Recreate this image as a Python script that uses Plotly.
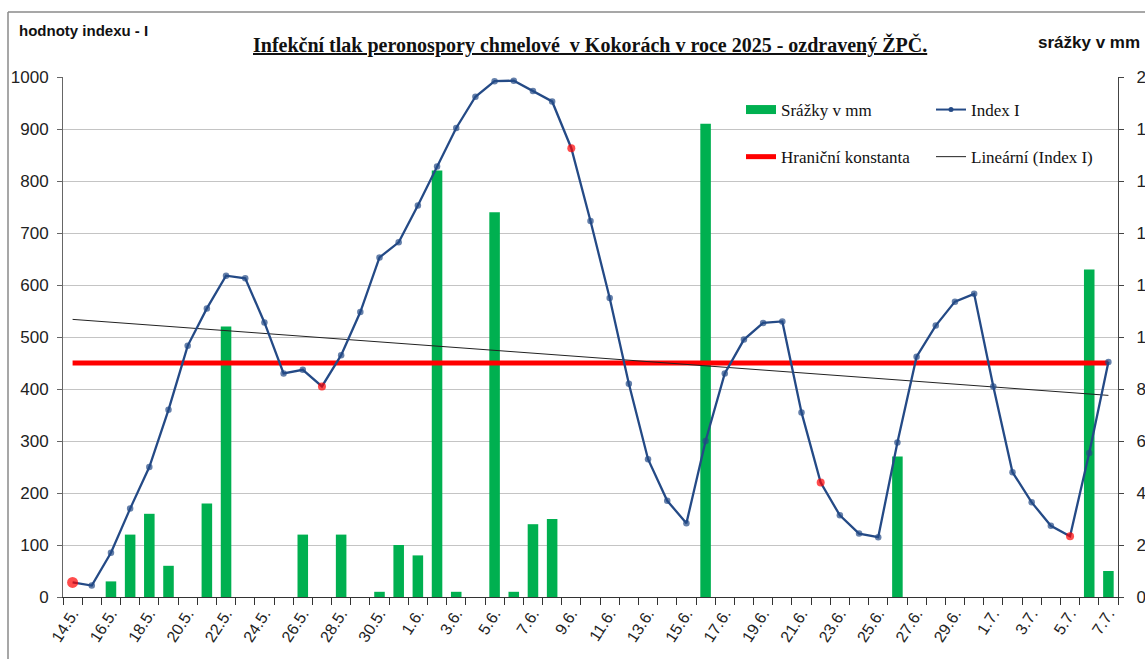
import numpy as np
import plotly.graph_objects as go

# ---------------- data ----------------
DATES = ["14.5.", "15.5.", "16.5.", "17.5.", "18.5.", "19.5.", "20.5.", "21.5.", "22.5.", "23.5.",
         "24.5.", "25.5.", "26.5.", "27.5.", "28.5.", "29.5.", "30.5.", "31.5.",
         "1.6.", "2.6.", "3.6.", "4.6.", "5.6.", "6.6.", "7.6.", "8.6.", "9.6.", "10.6.",
         "11.6.", "12.6.", "13.6.", "14.6.", "15.6.", "16.6.", "17.6.", "18.6.", "19.6.", "20.6.",
         "21.6.", "22.6.", "23.6.", "24.6.", "25.6.", "26.6.", "27.6.", "28.6.", "29.6.", "30.6.",
         "1.7.", "2.7.", "3.7.", "4.7.", "5.7.", "6.7.", "7.7."]

INDEX_I = [28, 22, 85, 170, 250, 360, 483, 555, 618, 613,
           528, 430, 437, 405, 465, 548, 653, 682,
           753, 828, 902, 962, 992, 993, 973, 953, 863, 723,
           575, 410, 265, 185, 142, 300, 430, 495, 527, 530,
           355, 220, 157, 122, 115, 297, 462, 522, 568, 583,
           405, 240, 182, 137, 117, 277, 452]

SRAZKY_MM = [0, 0, 0.6, 2.4, 3.2, 1.2, 0, 3.6, 10.4, 0,
             0, 0, 2.4, 0, 2.4, 0, 0.2, 2.0,
             1.6, 16.4, 0.2, 0, 14.8, 0.2, 2.8, 3.0, 0, 0,
             0, 0, 0, 0, 0, 18.2, 0, 0, 0, 0,
             0, 0, 0, 0, 0, 5.4, 0, 0, 0, 0,
             0, 0, 0, 0, 0, 12.6, 1.0]

HRANICNI_KONSTANTA = 450
RED_POINTS = ["14.5.", "27.5.", "9.6.", "22.6.", "5.7."]
TICK_LABELS = DATES[::2]

TITLE = "Infekční tlak peronospory chmelové  v Kokorách v roce 2025 - ozdravený ŽPČ."

# ---------------- styles ----------------
BLUE = "#244A86"
GREEN = "#00B050"
RED = "#FF0000"
SERIF = "Liberation Serif"
SANS = "Liberation Sans"

# trend (linear regression of Index I)
idx = np.arange(len(INDEX_I))
k, q = np.polyfit(idx, INDEX_I, 1)
trend = k * idx + q

fig = go.Figure()

# rain bars on the base axis (right side)
fig.add_trace(go.Bar(x=DATES, y=SRAZKY_MM, marker=dict(color=GREEN, line=dict(width=0)),
                     width=0.55, yaxis="y", showlegend=False, hoverinfo="x+y"))

# constant line
fig.add_trace(go.Scatter(x=[DATES[0], DATES[-1]], y=[HRANICNI_KONSTANTA] * 2, mode="lines",
                         line=dict(color=RED, width=5), yaxis="y2", showlegend=False))

# trend line
fig.add_trace(go.Scatter(x=DATES, y=trend, mode="lines", line=dict(color="#222222", width=1),
                         yaxis="y2", showlegend=False))

# index line
mcolors = [RED if d in RED_POINTS else BLUE for d in DATES]
msizes = [8 if d in RED_POINTS else 6.5 for d in DATES]
msizes[0] = 11
fig.add_trace(go.Scatter(x=DATES, y=INDEX_I, mode="lines+markers",
                         line=dict(color=BLUE, width=2.3),
                         marker=dict(color=mcolors, size=msizes, line=dict(width=0)),
                         yaxis="y2", showlegend=False))

# legend entries
fig.add_trace(go.Scatter(x=[None], y=[None], mode="lines", name="Srážky v mm",
                         line=dict(color=GREEN, width=9), legend="legend", legendgroup="a", yaxis="y2"))
fig.add_trace(go.Scatter(x=[None], y=[None], mode="lines", name="Hraniční konstanta",
                         line=dict(color=RED, width=5), legend="legend", legendgroup="b", yaxis="y2"))
fig.add_trace(go.Scatter(x=[None], y=[None], mode="lines+markers", name="Index I",
                         line=dict(color=BLUE, width=2), marker=dict(color=BLUE, size=5),
                         legend="legend2", legendgroup="c", yaxis="y2"))
fig.add_trace(go.Scatter(x=[None], y=[None], mode="lines", name="Lineární (Index I)",
                         line=dict(color="#222222", width=1), legend="legend2", legendgroup="d", yaxis="y2"))

W, H = 1145, 659
L, R, T, B = 63, 27, 77, 62
pw, ph = W - L - R, H - T - B


def px(x):
    return (x - L) / pw


def py(y):
    return (H - B - y) / ph


legend_common = dict(font=dict(family=SERIF, size=17, color="#111111"), bgcolor="rgba(0,0,0,0)",
                     borderwidth=0, tracegroupgap=22, traceorder="grouped",
                     xanchor="left", yanchor="top", itemwidth=30)

fig.update_layout(
    width=W, height=H, autosize=False,
    margin=dict(l=L, r=R, t=T, b=B),
    paper_bgcolor="white", plot_bgcolor="white",
    xaxis=dict(type="category", categoryorder="array", categoryarray=DATES,
               tickmode="array", tickvals=DATES,
               ticktext=[d if d in TICK_LABELS else "" for d in DATES],
               tickson="boundaries", ticks="outside", ticklen=7, tickcolor="#333333",
               tickangle=-57, tickfont=dict(family=SANS, size=16, color="#222222"),
               showline=True, linecolor="#333333", linewidth=1, showgrid=False,
               range=[-0.5, len(DATES) - 0.5], automargin=False),
    yaxis=dict(range=[0, 20], dtick=2, side="right", showgrid=True, gridcolor="#C4C4C4",
               gridwidth=1, zeroline=False, showline=True, linecolor="#444444",
               ticks="outside", ticklen=5, tickcolor="#444444", ticklabelstandoff=9,
               tickfont=dict(family=SANS, size=17, color="#222222"), automargin=False),
    yaxis2=dict(range=[0, 1000], dtick=100, side="left", overlaying="y", showgrid=False,
                zeroline=False, showline=True, linecolor="#666666",
                ticks="outside", ticklen=5, tickcolor="#666666", ticklabelstandoff=5,
                tickfont=dict(family=SANS, size=17, color="#222222"), automargin=False),
    legend=dict(x=px(741), y=py(92), **legend_common),
    legend2=dict(x=px(931), y=py(92), **legend_common),
    annotations=[
        dict(text="<b><u>" + TITLE + "</u></b>", xref="paper", yref="paper",
             x=px(590), y=py(45), xanchor="center", yanchor="middle", showarrow=False,
             font=dict(family=SERIF, size=20, color="#111111")),
        dict(text="<b>hodnoty indexu - I</b>", xref="paper", yref="paper",
             x=px(17), y=py(30), xanchor="left", yanchor="middle", showarrow=False,
             font=dict(family=SANS, size=15, color="#111111")),
        dict(text="<b>srážky v mm</b>", xref="paper", yref="paper",
             x=px(1036), y=py(42), xanchor="left", yanchor="middle", showarrow=False,
             font=dict(family=SANS, size=17, color="#111111")),
    ],
    shapes=[
        dict(type="line", xref="paper", yref="paper", x0=px(8), x1=px(1160), y0=py(12), y1=py(12),
             line=dict(color="#8A8A8A", width=1.5)),
        dict(type="line", xref="paper", yref="paper", x0=px(8), x1=px(8), y0=py(12), y1=py(680),
             line=dict(color="#8A8A8A", width=1.5)),
    ],
)

fig.write_html("out.html", config={"displayModeBar": False},
               post_script="document.body.style.margin='0';document.body.style.overflow='hidden';")
